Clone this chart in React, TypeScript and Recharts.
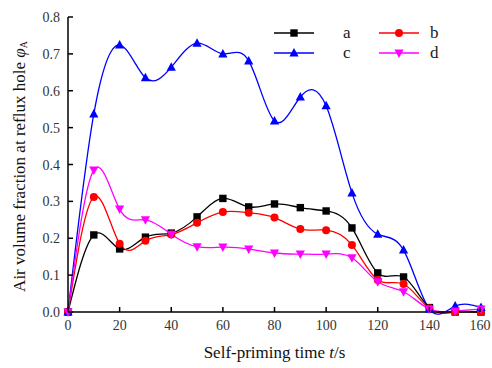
import { LineChart, Line, XAxis, YAxis } from "recharts";

const times = [0, 10, 20, 30, 40, 50, 60, 70, 80, 90, 100, 110, 120, 130, 140, 150, 160];
const seriesA = [0, 0.209, 0.171, 0.203, 0.214, 0.258, 0.308, 0.285, 0.293, 0.283, 0.274, 0.228, 0.106, 0.095, 0.012, 0, 0];
const seriesB = [0, 0.312, 0.185, 0.193, 0.21, 0.242, 0.271, 0.269, 0.256, 0.225, 0.222, 0.182, 0.087, 0.076, 0.01, 0, 0];
const seriesC = [0, 0.537, 0.724, 0.635, 0.664, 0.729, 0.7, 0.681, 0.518, 0.583, 0.559, 0.323, 0.211, 0.168, 0.008, 0.016, 0.012];
const seriesD = [0, 0.385, 0.279, 0.25, 0.211, 0.177, 0.176, 0.171, 0.16, 0.157, 0.157, 0.147, 0.082, 0.055, 0.008, 0.003, 0.008];

const xTicks = [0, 20, 40, 60, 80, 100, 120, 140, 160];
const yTicks = [0, 0.1, 0.2, 0.3, 0.4, 0.5, 0.6, 0.7, 0.8];

const data = times.map((t, i) => ({
  t,
  a: seriesA[i],
  b: seriesB[i],
  c: seriesC[i],
  d: seriesD[i],
}));

const FONT = '"Liberation Serif", "Times New Roman", serif';

type Shape = "square" | "circle" | "up" | "down";

function marker(shape: Shape, cx: number, cy: number, color: string, key?: string | number) {
  if (shape === "square") {
    return <rect key={key} x={cx - 3.7} y={cy - 3.7} width={7.4} height={7.4} fill={color} />;
  }
  if (shape === "circle") {
    return <circle key={key} cx={cx} cy={cy} r={4} fill={color} />;
  }
  if (shape === "up") {
    return <path key={key} d={`M${cx},${cy - 5} L${cx + 4.6},${cy + 3.5} L${cx - 4.6},${cy + 3.5} Z`} fill={color} />;
  }
  return <path key={key} d={`M${cx},${cy + 5} L${cx + 4.6},${cy - 3.5} L${cx - 4.6},${cy - 3.5} Z`} fill={color} />;
}

const makeDot = (shape: Shape, color: string) => (props: any) =>
  marker(shape, props.cx, props.cy, color, props.key ?? `${shape}-${props.index}`);

function XTick(props: any) {
  const { x, y, payload } = props;
  return (
    <g>
      <line x1={x} y1={y} x2={x} y2={y - 5} stroke="#000" strokeWidth={1.5} />
      <text x={x} y={y + 18} textAnchor="middle" fontFamily={FONT} fontSize={14} fill="#333">
        {payload.value}
      </text>
    </g>
  );
}

function YTick(props: any) {
  const { x, y, payload } = props;
  return (
    <g>
      <line x1={x} y1={y} x2={x + 5} y2={y} stroke="#000" strokeWidth={1.5} />
      <text x={x - 8} y={y + 5} textAnchor="end" fontFamily={FONT} fontSize={14} fill="#333">
        {Number(payload.value).toFixed(1)}
      </text>
    </g>
  );
}

// legend slots: line start / text start, relative to the legend box
const legendItems: { name: string; color: string; shape: Shape; lx: number; tx: number; ly: number }[] = [
  { name: "a", color: "#000000", shape: "square", lx: 0, tx: 69, ly: 10 },
  { name: "b", color: "#ff0000", shape: "circle", lx: 105, tx: 156, ly: 10 },
  { name: "c", color: "#0000ff", shape: "up", lx: 0, tx: 69, ly: 30 },
  { name: "d", color: "#ff00ff", shape: "down", lx: 105, tx: 156, ly: 30 },
];

function ChartLegend() {
  return (
    <svg width={200} height={44}>
      {legendItems.map((it) => (
        <g key={it.name}>
          <line x1={it.lx} y1={it.ly} x2={it.lx + 40} y2={it.ly} stroke={it.color} strokeWidth={1.5} />
          {marker(it.shape, it.lx + 20, it.ly, it.color)}
          <text x={it.tx} y={it.ly + 5} fontFamily={FONT} fontSize={17} fill="#1a1a1a">
            {it.name}
          </text>
        </g>
      ))}
    </svg>
  );
}

export default function App() {
  return (
    <div style={{ position: "absolute", left: 0, top: 0, width: 492, height: 368, background: "#fff" }}>
      <LineChart width={492} height={368} data={data} margin={{ top: 17, right: 11, bottom: 0, left: 0 }}>
        <XAxis
          dataKey="t"
          type="number"
          domain={[0, 160]}
          ticks={xTicks}
          height={56}
          tickSize={0}
          tickMargin={0}
          tickLine={false}
          tick={<XTick />}
          axisLine={{ stroke: "#000", strokeWidth: 1.5 }}
          label={{
            value: "Self-priming time t/s",
            content: (p: any) => {
              const vb = p.viewBox;
              return (
                <text
                  x={vb.x + vb.width / 2}
                  y={vb.y + vb.height - 10}
                  textAnchor="middle"
                  fontFamily={FONT}
                  fontSize={17}
                  fill="#111"
                >
                  Self-priming time <tspan fontStyle="italic">t</tspan>/s
                </text>
              );
            },
          }}
        />
        <YAxis
          type="number"
          domain={[0, 0.8]}
          ticks={yTicks}
          width={68}
          tickSize={0}
          tickMargin={0}
          tickLine={false}
          tick={<YTick />}
          axisLine={{ stroke: "#000", strokeWidth: 1.5 }}
          label={{
            value: "Air volume fraction at reflux hole",
            content: (p: any) => {
              const vb = p.viewBox;
              const cx = 21;
              const cy = vb.y + vb.height / 2 + 2;
              return (
                <text
                  x={cx}
                  y={cy}
                  transform={`rotate(-90 ${cx} ${cy})`}
                  textAnchor="middle"
                  dominantBaseline="middle"
                  fontFamily={FONT}
                  fontSize={17}
                  fill="#111"
                >
                  Air volume fraction at reflux hole <tspan fontStyle="italic">φ</tspan>
                  <tspan fontSize={10} dy={4}>A</tspan>
                </text>
              );
            },
          }}
        />
        <Line
          dataKey="a"
          type="natural"
          stroke="#000000"
          strokeWidth={1.3}
          dot={makeDot("square", "#000000")}
          isAnimationActive={false}
        />
        <Line
          dataKey="b"
          type="natural"
          stroke="#ff0000"
          strokeWidth={1.3}
          dot={makeDot("circle", "#ff0000")}
          isAnimationActive={false}
        />
        <Line
          dataKey="c"
          type="natural"
          stroke="#0000ff"
          strokeWidth={1.3}
          dot={makeDot("up", "#0000ff")}
          isAnimationActive={false}
        />
        <Line
          dataKey="d"
          type="natural"
          stroke="#ff00ff"
          strokeWidth={1.3}
          dot={makeDot("down", "#ff00ff")}
          isAnimationActive={false}
        />
      </LineChart>
      <div style={{ position: "absolute", left: 274, top: 23 }}>
        <ChartLegend />
      </div>
    </div>
  );
}
